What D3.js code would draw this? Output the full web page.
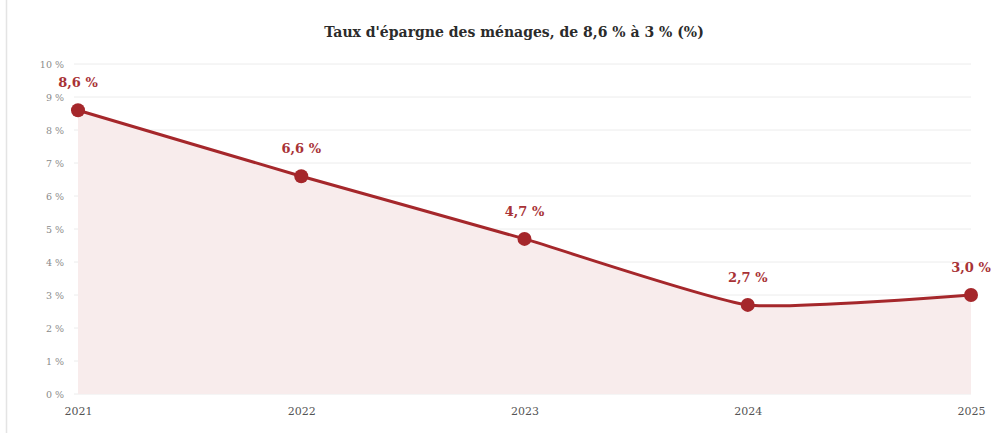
<!DOCTYPE html>
<html>
<head>
<meta charset="utf-8">
<script src="https://cdn.jsdelivr.net/npm/d3@7"></script>
<style>
  body { margin: 0; background: #fff; }
  #chart { width: 1000px; height: 439px; }
  text { font-family: "DejaVu Serif", Georgia, serif; }
</style>
</head>
<body>
<div id="chart"></div>
<script>
const years = ["2021", "2022", "2023", "2024", "2025"];
const savingsRate = [8.6, 6.6, 4.7, 2.7, 3.0];
const valueLabels = ["8,6 %", "6,6 %", "4,7 %", "2,7 %", "3,0 %"];
const yTicks = [0, 1, 2, 3, 4, 5, 6, 7, 8, 9, 10];

const chart = document.getElementById('chart');
const width = 1000;
const height = 439;
const margin = { top: 64, right: 29, bottom: 45, left: 78 };
const serif = '"DejaVu Serif", Georgia, serif';

const svg = d3.select(chart)
    .append('svg')
    .attr('width', width)
    .attr('height', height);

// thin frame line on the left
svg.append('line')
    .attr('x1', 6.5).attr('x2', 6.5)
    .attr('y1', 0).attr('y2', 433)
    .attr('stroke', '#e4e4e4')
    .attr('stroke-width', 1.5);

svg.append('text')
    .attr('x', 514)
    .attr('y', 37)
    .attr('text-anchor', 'middle')
    .attr('font-size', 14)
    .attr('font-weight', 'bold')
    .attr('fill', '#2b2b2b')
    .text("Taux d'épargne des ménages, de 8,6 % à 3 % (%)");

const x = d3.scalePoint()
    .domain(years)
    .range([margin.left, width - margin.right]);

const y = d3.scaleLinear()
    .domain([0, 10])
    .range([height - margin.bottom, margin.top]);

// grid lines
svg.append('g')
    .selectAll('line')
    .data(yTicks)
    .enter()
    .append('line')
    .attr('x1', margin.left - 4)
    .attr('x2', width - margin.right)
    .attr('y1', d => y(d))
    .attr('y2', d => y(d))
    .attr('stroke', '#ececec')
    .attr('stroke-width', 1);

// y axis labels
const yAxis = d3.axisLeft(y)
    .tickValues(yTicks)
    .tickSize(0)
    .tickPadding(14)
    .tickFormat(d => d + ' %');

svg.append('g')
    .attr('transform', `translate(${margin.left},0)`)
    .call(yAxis)
    .call(g => g.select('.domain').remove())
    .call(g => g.selectAll('text')
        .attr('font-size', 9.5)
        .attr('fill', '#8a8a8a')
        .style('font-family', serif));

// x axis labels
const xAxis = d3.axisBottom(x).tickSize(0).tickPadding(0);
svg.append('g')
    .attr('transform', `translate(0,${height - margin.bottom + 13})`)
    .call(xAxis)
    .call(g => g.select('.domain').remove())
    .call(g => g.selectAll('text')
        .attr('font-size', 11)
        .attr('fill', '#555')
        .style('font-family', serif));

const points = years.map((yr, i) => ({ year: yr, value: savingsRate[i], label: valueLabels[i] }));

const curve = d3.curveCardinal.tension(0.5);

const area = d3.area()
    .x(d => x(d.year))
    .y0(y(0))
    .y1(d => y(d.value))
    .curve(curve);

const line = d3.line()
    .x(d => x(d.year))
    .y(d => y(d.value))
    .curve(curve);

svg.append('path')
    .datum(points)
    .attr('d', area)
    .attr('fill', '#f8ecec');

svg.append('path')
    .datum(points)
    .attr('d', line)
    .attr('fill', 'none')
    .attr('stroke', '#a5272b')
    .attr('stroke-width', 3);

svg.selectAll('circle.pt')
    .data(points)
    .enter()
    .append('circle')
    .attr('class', 'pt')
    .attr('cx', d => x(d.year))
    .attr('cy', d => y(d.value))
    .attr('r', 7)
    .attr('fill', '#a5272b');

svg.selectAll('text.val')
    .data(points)
    .enter()
    .append('text')
    .attr('class', 'val')
    .attr('x', d => x(d.year))
    .attr('y', d => y(d.value) - 23)
    .attr('text-anchor', 'middle')
    .attr('font-size', 13)
    .attr('font-weight', 'bold')
    .attr('fill', '#a83236')
    .text(d => d.label);
</script>
</body>
</html>
